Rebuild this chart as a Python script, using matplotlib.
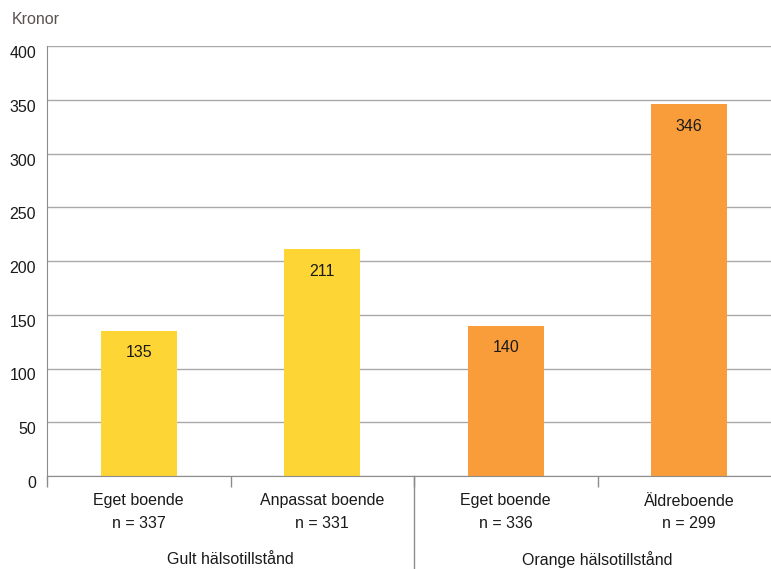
import numpy as np
import matplotlib.pyplot as plt
import matplotlib.transforms as mtransforms

plt.rcParams['font.family'] = ['Liberation Sans', 'DejaVu Sans']

categories = ['Eget boende', 'Anpassat boende', 'Eget boende', 'Äldreboende']
n_values = [337, 331, 336, 299]
values = [135, 211, 140, 346]
groups = ['Gult hälsotillstånd', 'Orange hälsotillstånd']
colors = ['#FDD535', '#FDD535', '#F99D3A', '#F99D3A']

fs = 11.5

fig = plt.figure(figsize=(7.71, 5.69), dpi=100)
ax = fig.add_axes([47/771, 93/569, 734/771, 430/569])

x = np.arange(len(values))
bars = ax.bar(x, values, width=0.415, color=colors, zorder=2)

for b, v in zip(bars, values):
    ax.annotate(str(v), (b.get_x() + b.get_width()/2, v), xytext=(0, -22),
                textcoords='offset pixels', ha='center', va='center',
                fontsize=fs, color='#1a1a1a')

ax.set_xlim(-0.5, 3.5)
ax.set_ylim(0, 400)
ax.set_yticks(np.arange(0, 401, 50))
ax.yaxis.grid(True, color='#a9a9a9', linewidth=1.0, zorder=0)
ax.set_axisbelow(True)
ax.tick_params(axis='y', length=0, pad=8, labelsize=fs, labelcolor='#1a1a1a')
offset = mtransforms.ScaledTranslation(0, -6/100, fig.dpi_scale_trans)
for lab in ax.get_yticklabels():
    lab.set_transform(lab.get_transform() + offset)

for s in ['right', 'top']:
    ax.spines[s].set_visible(False)
ax.spines['left'].set_color('#8c8c8c')
ax.spines['bottom'].set_color('#8c8c8c')
ax.spines['left'].set_bounds(-2, 400)

# category boundaries as ticks
ax.set_xticks([-0.5, 0.5, 1.5, 2.5, 3.5])
ax.set_xticklabels([])
ax.tick_params(axis='x', length=8, color='#8c8c8c', width=1)

trans = ax.get_xaxis_transform()
for i, (c, n) in enumerate(zip(categories, n_values)):
    ax.text(i, -25/430, c, transform=trans, ha='center', va='center',
            fontsize=fs, color='#1a1a1a')
    ax.text(i, -48/430, f'n = {n}', transform=trans, ha='center', va='center',
            fontsize=fs, color='#1a1a1a')
for i, g in enumerate(groups):
    ax.text(0.5 + 2*i, -84/430, g, transform=trans, ha='center', va='center',
            fontsize=fs, color='#1a1a1a')

ax.plot([1.5, 1.5], [0, -0.25], transform=trans, color='#8c8c8c',
        linewidth=1, clip_on=False)

fig.text(12/771, 1 - 20/569, 'Kronor', ha='left', va='center',
         fontsize=fs, color='#5a5250')

fig.savefig('out.png', dpi=100)
